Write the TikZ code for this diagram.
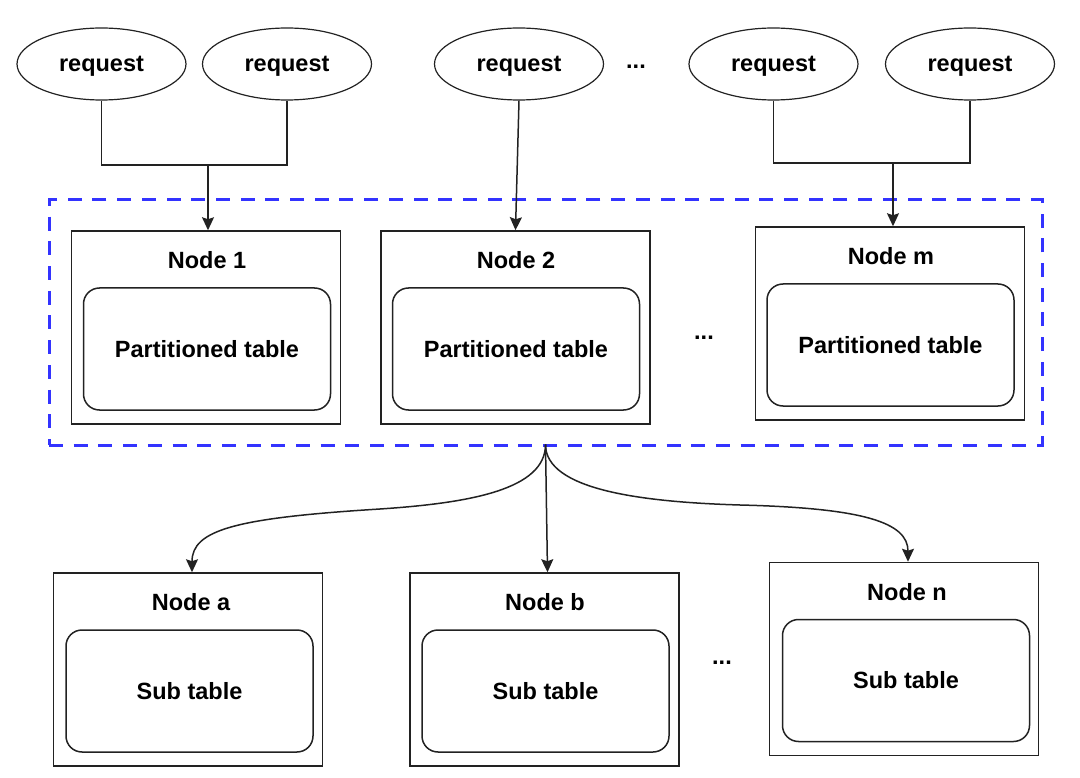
\documentclass[tikz,border=0pt]{standalone}
\usepackage{fontspec}
\setmainfont{Liberation Sans}
\usetikzlibrary{shapes.geometric,arrows.meta}
\definecolor{dashblue}{HTML}{3333FF}
\definecolor{linegray}{HTML}{222222}
\begin{document}
\begin{tikzpicture}[x=1pt,y=-1pt,
  every node/.style={font=\fontsize{23.5}{28}\selectfont\bfseries, inner sep=0pt, text=black},
  req/.style={ellipse, draw=linegray, line width=1.2pt, minimum width=169pt, minimum height=72pt, text depth=0pt},
  outerbox/.style={draw=linegray, line width=1.5pt, minimum width=269pt, minimum height=193pt},
  innerbox/.style={draw=linegray, line width=1.5pt, rounded corners=16pt, minimum width=247pt, minimum height=122pt},
  conn/.style={draw=linegray, line width=1.5pt},
  arr/.style={conn, -{Stealth[length=13pt,width=12pt,inset=2pt]}},
  cluster/.style={draw=dashblue, line width=3pt, dash pattern=on 14pt off 10.7pt, minimum width=993pt, minimum height=245pt},
]
\useasboundingbox (0,0) rectangle (1080,778);

% request ellipses
\node[req] (e1) at (101.5,64) {request};
\node[req] (e2) at (287,64) {request};
\node[req] (e3) at (519,64) {request};
\node[req] (e4) at (773.5,64) {request};
\node[req] (e5) at (970,64) {request};
\node (dotsTop) at (636,67) {...};

% dashed cluster
\node[cluster] (cl) at (545.5,322.5) {};

% upper nodes
\node[outerbox] (n1) at (206,327.5) {};
\node (t1) at (207,260) {Node 1};
\node[innerbox] (p1) at (207,349) {Partitioned table};

\node[outerbox] (n2) at (515.5,327.5) {};
\node (t2) at (516,260) {Node 2};
\node[innerbox] (p2) at (516,349) {Partitioned table};

\node (dotsMid) at (704,338) {...};

\node[outerbox] (nm) at (890,323.5) {};
\node (tm) at (891,256) {Node m};
\node[innerbox] (pm) at (890.5,345) {Partitioned table};

% lower nodes
\node[outerbox] (na) at (188,669.5) {};
\node (ta) at (191,602) {Node a};
\node[innerbox] (sa) at (189.5,691) {Sub table};

\node[outerbox] (nb) at (544.5,669.5) {};
\node (tb) at (545,602) {Node b};
\node[innerbox] (sb) at (545.5,691) {Sub table};

\node (dotsLow) at (722,663) {...};

\node[outerbox] (nn) at (904,659) {};
\node (tn) at (907,592) {Node n};
\node[innerbox] (sn) at (906,680.5) {Sub table};

% request connectors
\coordinate (j1) at (208,165);
\draw[conn] (e1.south) -- (e1.south |- j1) -- (e2.south |- j1) -- (e2.south);
\draw[arr] (j1) -- (j1 |- n1.north);
\draw[arr] (e3.south) -- (n2.north);
\coordinate (j2) at (893,163);
\draw[conn] (e4.south) -- (e4.south |- j2) -- (e5.south |- j2) -- (e5.south);
\draw[arr] (j2) -- (j2 |- nm.north);

% distribution
\coordinate (src) at ([yshift=2pt]cl.south);
\draw[arr] (src) .. controls +(0,45) and (470,503) .. (380,509)
  .. controls (235,518) and (192,530) .. ([xshift=4pt]na.north);
\draw[arr] (src) -- ([xshift=3pt]nb.north);
\draw[arr] (src) .. controls +(0,45) and (640,502) .. (740,505)
  .. controls (862,508) and (908,522) .. ([xshift=4pt]nn.north);
\end{tikzpicture}
\end{document}
